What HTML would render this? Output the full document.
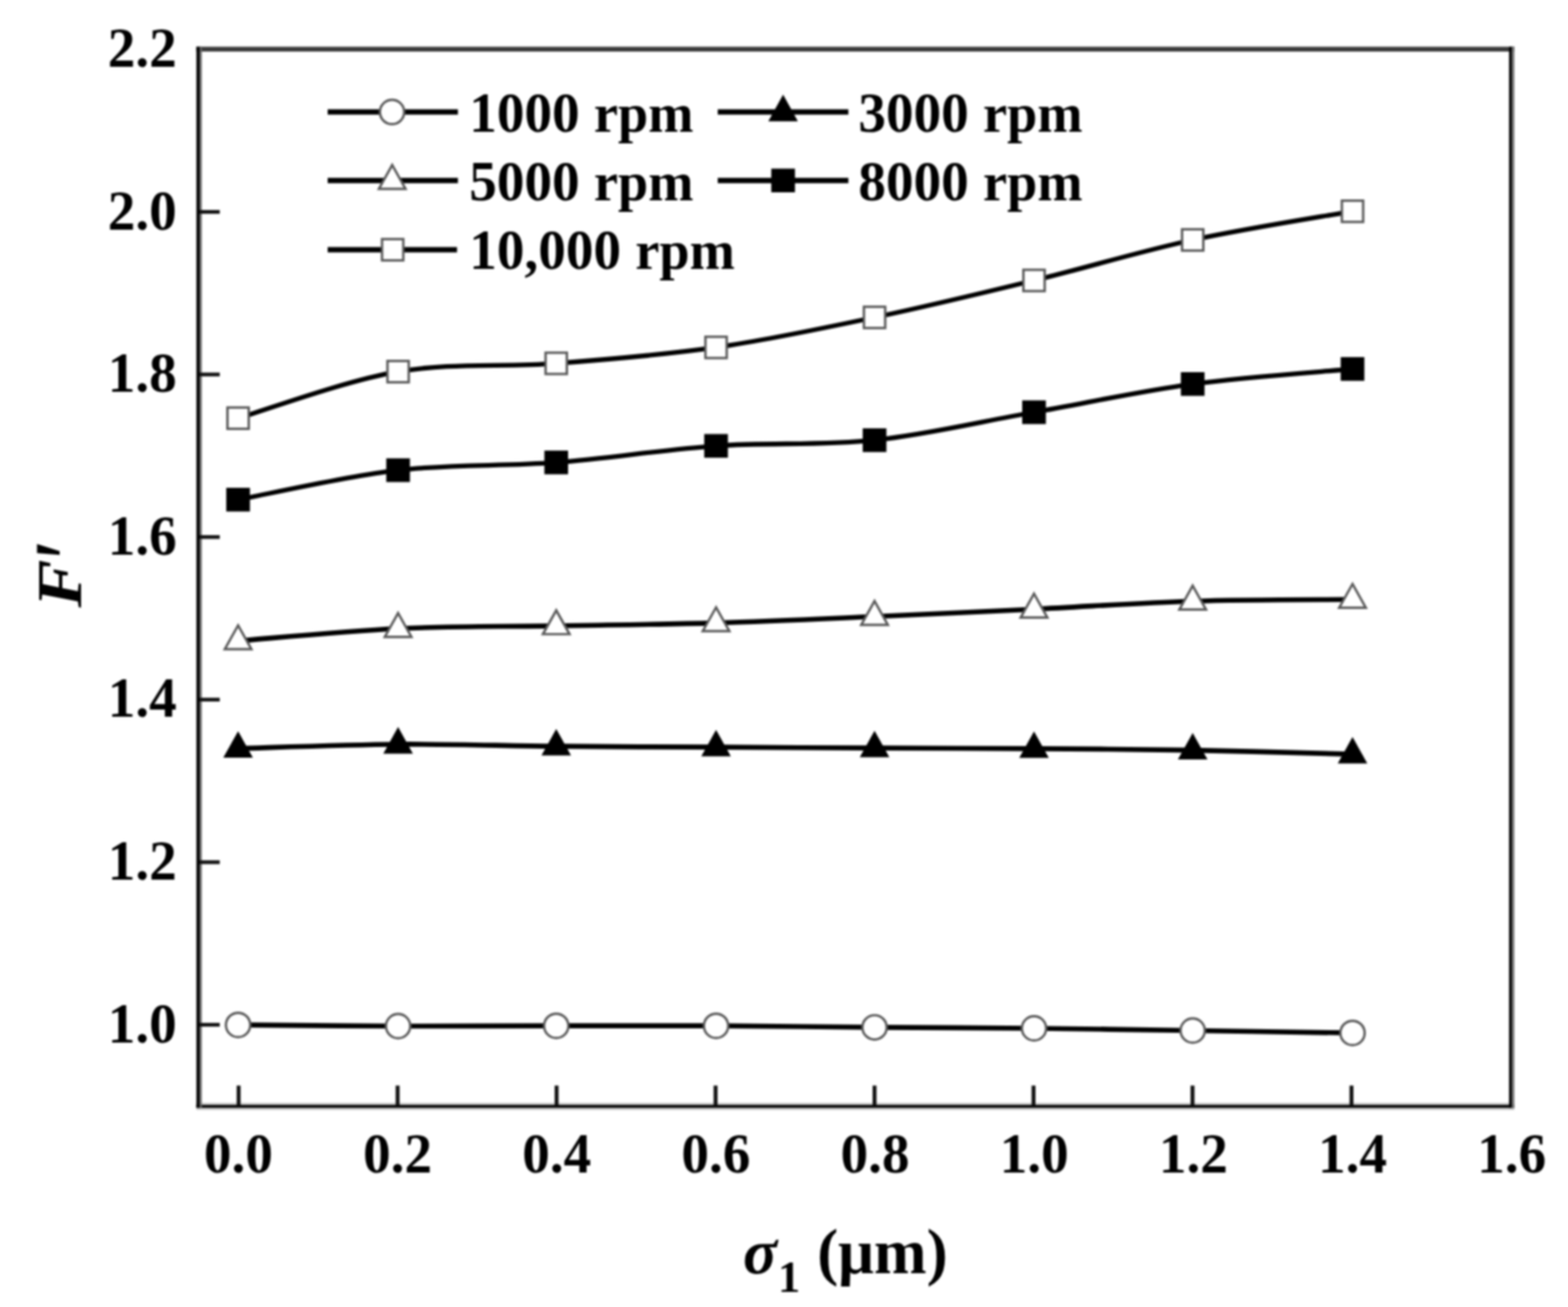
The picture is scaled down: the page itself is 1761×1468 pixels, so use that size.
<!DOCTYPE html>
<html lang="en"><head><meta charset="utf-8"><title>F′ versus σ1 (μm)</title>
<style>
html,body{margin:0;padding:0;background:#fff;}
body{width:1761px;height:1468px;overflow:hidden;}
svg{display:block;}
text{font-family:"Liberation Serif","DejaVu Serif",serif;font-weight:bold;fill:#000;}
.tk{font-size:62px;}
.lg{font-size:61px;}
.ttl{font-size:71px;}
</style></head><body>
<svg width="1761" height="1468" viewBox="0 0 1761 1468" role="img" aria-label="Line chart of F′ against σ1 (μm) for five rotation speeds">
<defs><filter id="soft" x="0" y="0" width="100%" height="100%" filterUnits="userSpaceOnUse" color-interpolation-filters="sRGB"><feGaussianBlur stdDeviation="0.80"/></filter></defs>
<rect x="0" y="0" width="1761" height="1468" fill="#fff"/>
<g filter="url(#soft)">
<rect x="220.60" y="52.50" width="1480.20" height="5.40" fill="#3a3a3a"/>
<rect x="220.60" y="1238.70" width="1480.20" height="7.90" fill="#c4c4c4"/>
<rect x="220.60" y="1241.10" width="1480.20" height="3.10" fill="#000"/>
<rect x="224.20" y="52.50" width="2.40" height="1191.70" fill="#666"/>
<rect x="220.60" y="52.50" width="3.60" height="1191.70" fill="#000"/>
<rect x="1697.90" y="52.50" width="2.90" height="1191.70" fill="#777"/>
<rect x="1694.80" y="52.50" width="3.10" height="1191.70" fill="#000"/>
<rect x="265.80" y="1219.30" width="4.40" height="22.70" fill="#111"/>
<rect x="444.35" y="1219.30" width="4.40" height="22.70" fill="#111"/>
<rect x="622.90" y="1219.30" width="4.40" height="22.70" fill="#111"/>
<rect x="801.45" y="1219.30" width="4.40" height="22.70" fill="#111"/>
<rect x="980.00" y="1219.30" width="4.40" height="22.70" fill="#111"/>
<rect x="1158.55" y="1219.30" width="4.40" height="22.70" fill="#111"/>
<rect x="1337.10" y="1219.30" width="4.40" height="22.70" fill="#111"/>
<rect x="1515.65" y="1219.30" width="4.40" height="22.70" fill="#111"/>
<rect x="224.00" y="1148.90" width="22.80" height="4.20" fill="#111"/>
<rect x="224.00" y="966.30" width="22.80" height="4.20" fill="#111"/>
<rect x="224.00" y="783.70" width="22.80" height="4.20" fill="#111"/>
<rect x="224.00" y="601.10" width="22.80" height="4.20" fill="#111"/>
<rect x="224.00" y="418.50" width="22.80" height="4.20" fill="#111"/>
<rect x="224.00" y="235.90" width="22.80" height="4.20" fill="#111"/>
<text class="tk" transform="translate(267.70,1317.00) scale(1,1.030)" text-anchor="middle">0.0</text>
<text class="tk" transform="translate(446.45,1317.00) scale(1,1.030)" text-anchor="middle">0.2</text>
<text class="tk" transform="translate(625.20,1317.00) scale(1,1.030)" text-anchor="middle">0.4</text>
<text class="tk" transform="translate(803.95,1317.00) scale(1,1.030)" text-anchor="middle">0.6</text>
<text class="tk" transform="translate(982.70,1317.00) scale(1,1.030)" text-anchor="middle">0.8</text>
<text class="tk" transform="translate(1161.45,1317.00) scale(1,1.030)" text-anchor="middle">1.0</text>
<text class="tk" transform="translate(1340.20,1317.00) scale(1,1.030)" text-anchor="middle">1.2</text>
<text class="tk" transform="translate(1518.95,1317.00) scale(1,1.030)" text-anchor="middle">1.4</text>
<text class="tk" transform="translate(1697.70,1317.00) scale(1,1.030)" text-anchor="middle">1.6</text>
<text class="tk" transform="translate(198.50,1170.60) scale(1,1.030)" text-anchor="end">1.0</text>
<text class="tk" transform="translate(198.50,988.00) scale(1,1.030)" text-anchor="end">1.2</text>
<text class="tk" transform="translate(198.50,805.40) scale(1,1.030)" text-anchor="end">1.4</text>
<text class="tk" transform="translate(198.50,622.80) scale(1,1.030)" text-anchor="end">1.6</text>
<text class="tk" transform="translate(198.50,440.20) scale(1,1.030)" text-anchor="end">1.8</text>
<text class="tk" transform="translate(198.50,257.60) scale(1,1.030)" text-anchor="end">2.0</text>
<text class="tk" transform="translate(198.50,75.00) scale(1,1.030)" text-anchor="end">2.2</text>
<text class="ttl"><tspan x="834.6" y="1429.5" font-style="italic">σ</tspan><tspan x="873.8" y="1450.6" style="font-size:50px">1</tspan><tspan x="899.95" y="1429.8"> (μm)</tspan></text>
<text class="ttl" transform="translate(91.3,682.5) rotate(-90) scale(1.14,1)" font-style="italic">F</text><text transform="translate(112,628.4) rotate(-90) scale(0.75,1)" style="font-size:108px">′</text>
<path d="M267.40,1151.20 C297.35,1151.42 387.55,1152.33 447.10,1152.50 C506.65,1152.67 565.18,1152.25 624.70,1152.20 C684.22,1152.15 744.62,1151.92 804.20,1152.20 C863.78,1152.48 922.68,1153.43 982.20,1153.90 C1041.72,1154.37 1101.75,1154.40 1161.30,1155.00 C1220.85,1155.60 1279.88,1156.63 1339.50,1157.50 C1399.12,1158.37 1489.08,1159.75 1519.00,1160.20" fill="none" stroke="#000" stroke-width="5.7"/>
<circle cx="267.40" cy="1151.20" r="13.65" fill="#fff" stroke="#585858" stroke-width="2.7"/>
<circle cx="447.10" cy="1152.50" r="13.65" fill="#fff" stroke="#585858" stroke-width="2.7"/>
<circle cx="624.70" cy="1152.20" r="13.65" fill="#fff" stroke="#585858" stroke-width="2.7"/>
<circle cx="804.20" cy="1152.20" r="13.65" fill="#fff" stroke="#585858" stroke-width="2.7"/>
<circle cx="982.20" cy="1153.90" r="13.65" fill="#fff" stroke="#585858" stroke-width="2.7"/>
<circle cx="1161.30" cy="1155.00" r="13.65" fill="#fff" stroke="#585858" stroke-width="2.7"/>
<circle cx="1339.50" cy="1157.50" r="13.65" fill="#fff" stroke="#585858" stroke-width="2.7"/>
<circle cx="1519.00" cy="1160.20" r="13.65" fill="#fff" stroke="#585858" stroke-width="2.7"/>
<path d="M267.40,840.70 C297.35,839.92 387.55,836.42 447.10,836.00 C506.65,835.58 565.18,837.67 624.70,838.20 C684.22,838.73 744.62,838.87 804.20,839.20 C863.78,839.53 922.68,839.92 982.20,840.20 C1041.72,840.48 1101.75,840.48 1161.30,840.90 C1220.85,841.32 1279.88,841.65 1339.50,842.70 C1399.12,843.75 1489.08,846.45 1519.00,847.20" fill="none" stroke="#000" stroke-width="5.7"/>
<path d="M267.40,821.20 L284.00,851.10 L250.80,851.10 Z" fill="#000"/>
<path d="M447.10,816.50 L463.70,846.40 L430.50,846.40 Z" fill="#000"/>
<path d="M624.70,818.70 L641.30,848.60 L608.10,848.60 Z" fill="#000"/>
<path d="M804.20,819.70 L820.80,849.60 L787.60,849.60 Z" fill="#000"/>
<path d="M982.20,820.70 L998.80,850.60 L965.60,850.60 Z" fill="#000"/>
<path d="M1161.30,821.40 L1177.90,851.30 L1144.70,851.30 Z" fill="#000"/>
<path d="M1339.50,823.20 L1356.10,853.10 L1322.90,853.10 Z" fill="#000"/>
<path d="M1519.00,827.70 L1535.60,857.60 L1502.40,857.60 Z" fill="#000"/>
<path d="M267.40,719.80 C297.35,717.50 387.55,708.82 447.10,706.00 C506.65,703.18 565.18,703.97 624.70,702.90 C684.22,701.83 744.62,701.33 804.20,699.60 C863.78,697.87 922.68,695.07 982.20,692.50 C1041.72,689.93 1101.75,687.08 1161.30,684.20 C1220.85,681.32 1279.88,677.02 1339.50,675.20 C1399.12,673.38 1489.08,673.62 1519.00,673.30" fill="none" stroke="#000" stroke-width="5.6"/>
<path d="M267.40,702.40 L282.36,729.15 L252.44,729.15 Z" fill="#fff" stroke="#585858" stroke-width="2.7" stroke-linejoin="miter"/>
<path d="M447.10,688.60 L462.06,715.35 L432.14,715.35 Z" fill="#fff" stroke="#585858" stroke-width="2.7" stroke-linejoin="miter"/>
<path d="M624.70,685.50 L639.66,712.25 L609.74,712.25 Z" fill="#fff" stroke="#585858" stroke-width="2.7" stroke-linejoin="miter"/>
<path d="M804.20,682.20 L819.16,708.95 L789.24,708.95 Z" fill="#fff" stroke="#585858" stroke-width="2.7" stroke-linejoin="miter"/>
<path d="M982.20,675.10 L997.16,701.85 L967.24,701.85 Z" fill="#fff" stroke="#585858" stroke-width="2.7" stroke-linejoin="miter"/>
<path d="M1161.30,666.80 L1176.26,693.55 L1146.34,693.55 Z" fill="#fff" stroke="#585858" stroke-width="2.7" stroke-linejoin="miter"/>
<path d="M1339.50,657.80 L1354.46,684.55 L1324.54,684.55 Z" fill="#fff" stroke="#585858" stroke-width="2.7" stroke-linejoin="miter"/>
<path d="M1519.00,655.90 L1533.96,682.65 L1504.04,682.65 Z" fill="#fff" stroke="#585858" stroke-width="2.7" stroke-linejoin="miter"/>
<path d="M267.40,561.20 C297.35,555.68 387.55,535.07 447.10,528.10 C506.65,521.13 565.18,523.95 624.70,519.40 C684.22,514.85 744.62,504.97 804.20,500.80 C863.78,496.63 922.68,500.70 982.20,494.40 C1041.72,488.10 1101.75,473.52 1161.30,463.00 C1220.85,452.48 1279.88,439.40 1339.50,431.30 C1399.12,423.20 1489.08,417.22 1519.00,414.40" fill="none" stroke="#000" stroke-width="5.3"/>
<rect x="254.10" y="547.90" width="26.6" height="26.6" fill="#000"/>
<rect x="433.80" y="514.80" width="26.6" height="26.6" fill="#000"/>
<rect x="611.40" y="506.10" width="26.6" height="26.6" fill="#000"/>
<rect x="790.90" y="487.50" width="26.6" height="26.6" fill="#000"/>
<rect x="968.90" y="481.10" width="26.6" height="26.6" fill="#000"/>
<rect x="1148.00" y="449.70" width="26.6" height="26.6" fill="#000"/>
<rect x="1326.20" y="418.00" width="26.6" height="26.6" fill="#000"/>
<rect x="1505.70" y="401.10" width="26.6" height="26.6" fill="#000"/>
<path d="M267.40,469.70 C297.35,460.98 387.55,427.67 447.10,417.40 C506.65,407.13 565.18,412.63 624.70,408.10 C684.22,403.57 744.62,398.80 804.20,390.20 C863.78,381.60 922.68,369.03 982.20,356.50 C1041.72,343.97 1101.75,329.50 1161.30,315.00 C1220.85,300.50 1279.88,282.45 1339.50,269.50 C1399.12,256.55 1489.08,242.67 1519.00,237.30" fill="none" stroke="#000" stroke-width="5.3"/>
<rect x="255.45" y="457.75" width="23.9" height="23.9" fill="#fff" stroke="#585858" stroke-width="2.7"/>
<rect x="435.15" y="405.45" width="23.9" height="23.9" fill="#fff" stroke="#585858" stroke-width="2.7"/>
<rect x="612.75" y="396.15" width="23.9" height="23.9" fill="#fff" stroke="#585858" stroke-width="2.7"/>
<rect x="792.25" y="378.25" width="23.9" height="23.9" fill="#fff" stroke="#585858" stroke-width="2.7"/>
<rect x="970.25" y="344.55" width="23.9" height="23.9" fill="#fff" stroke="#585858" stroke-width="2.7"/>
<rect x="1149.35" y="303.05" width="23.9" height="23.9" fill="#fff" stroke="#585858" stroke-width="2.7"/>
<rect x="1327.55" y="257.55" width="23.9" height="23.9" fill="#fff" stroke="#585858" stroke-width="2.7"/>
<rect x="1507.05" y="225.35" width="23.9" height="23.9" fill="#fff" stroke="#585858" stroke-width="2.7"/>
<line x1="368.0" y1="125.8" x2="514.3" y2="125.8" stroke="#000" stroke-width="6"/>
<circle cx="440.30" cy="125.80" r="13.65" fill="#fff" stroke="#585858" stroke-width="2.7"/>
<text class="lg" style="font-size:62px" transform="translate(527.0,147.6) scale(1,1.030)">1000</text><text class="lg" x="667.00" y="147.6"> rpm</text>
<line x1="806.1" y1="125.8" x2="952.8" y2="125.8" stroke="#000" stroke-width="6"/>
<path d="M879.50,106.30 L896.10,136.20 L862.90,136.20 Z" fill="#000"/>
<text class="lg" style="font-size:62px" transform="translate(964.0,147.6) scale(1,1.030)">3000</text><text class="lg" x="1104.00" y="147.6"> rpm</text>
<line x1="368.0" y1="202.7" x2="514.3" y2="202.7" stroke="#000" stroke-width="6"/>
<path d="M440.50,185.30 L455.46,212.05 L425.54,212.05 Z" fill="#fff" stroke="#585858" stroke-width="2.7" stroke-linejoin="miter"/>
<text class="lg" style="font-size:62px" transform="translate(527.0,224.5) scale(1,1.030)">5000</text><text class="lg" x="667.00" y="224.5"> rpm</text>
<line x1="806.1" y1="202.7" x2="952.8" y2="202.7" stroke="#000" stroke-width="6"/>
<rect x="866.20" y="189.40" width="26.6" height="26.6" fill="#000"/>
<text class="lg" style="font-size:62px" transform="translate(964.0,224.5) scale(1,1.030)">8000</text><text class="lg" x="1104.00" y="224.5"> rpm</text>
<line x1="368.0" y1="280.5" x2="513.3" y2="280.5" stroke="#000" stroke-width="6"/>
<rect x="429.05" y="268.55" width="23.9" height="23.9" fill="#fff" stroke="#585858" stroke-width="2.7"/>
<text class="lg" style="font-size:62px" transform="translate(527.0,302.3) scale(1,1.030)">10,000</text><text class="lg" x="713.50" y="302.3"> rpm</text>
</g>
</svg></body></html>
